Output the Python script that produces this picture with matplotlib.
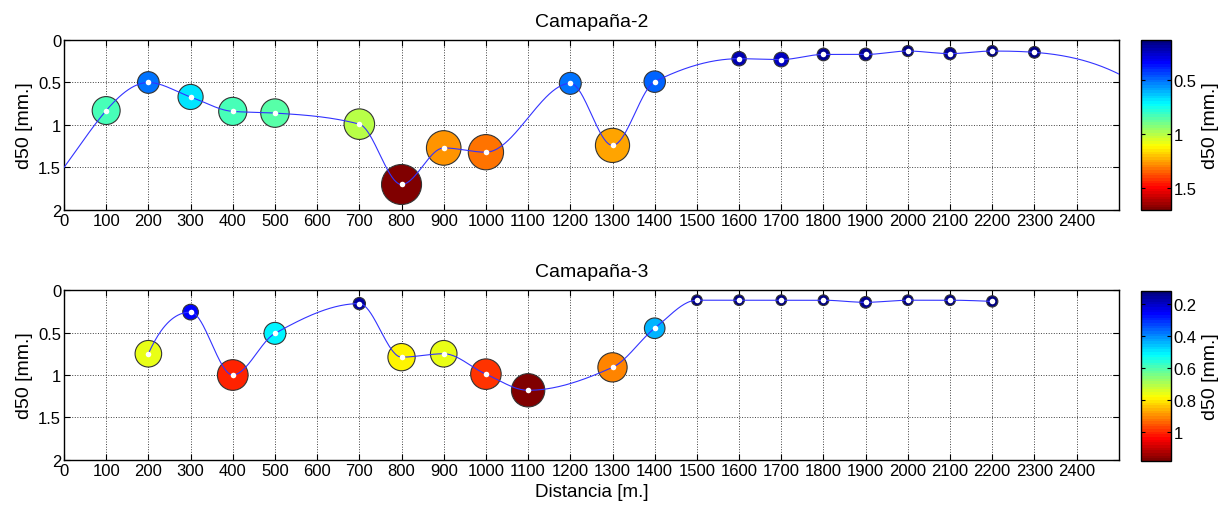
import numpy as np
import matplotlib
matplotlib.use('Agg')
import matplotlib.pyplot as plt
from matplotlib.colors import LinearSegmentedColormap

plt.rcParams['font.family'] = ['Liberation Sans', 'DejaVu Sans']
plt.rcParams['font.size'] = 12

# Campaign 2 (top)
dist2 = np.array([100, 200, 300, 400, 500, 700, 800, 900, 1000, 1200, 1300, 1400,
                  1600, 1700, 1800, 1900, 2000, 2100, 2200, 2300])
d50_2 = np.array([0.83, 0.50, 0.67, 0.84, 0.86, 0.99, 1.70, 1.27, 1.32, 0.51, 1.24, 0.49,
                  0.22, 0.23, 0.17, 0.17, 0.13, 0.16, 0.13, 0.145])

# Campaign 3 (bottom)
dist3 = np.array([200, 300, 400, 500, 700, 800, 900, 1000, 1100, 1300, 1400,
                  1500, 1600, 1700, 1800, 1900, 2000, 2100, 2200])
d50_3 = np.array([0.75, 0.26, 1.00, 0.51, 0.16, 0.79, 0.75, 0.99, 1.18, 0.91, 0.45,
                  0.12, 0.12, 0.12, 0.12, 0.145, 0.12, 0.12, 0.134])

titles = ['Camapaña-2', 'Camapaña-3']
cbar_ticks = [[0.5, 1, 1.5], [0.2, 0.4, 0.6, 0.8, 1]]
xticks = np.arange(0, 2500, 100)
yticks = [0, 0.5, 1, 1.5, 2]

# matlab style jet (64 levels)
mjet = LinearSegmentedColormap('mjet', {
    'red':   [(0, 0, 0), (0.375, 0, 0), (0.625, 1, 1), (0.875, 1, 1), (1, 0.5, 0.5)],
    'green': [(0, 0, 0), (0.125, 0, 0), (0.375, 1, 1), (0.625, 1, 1), (0.875, 0, 0), (1, 0, 0)],
    'blue':  [(0, 0.5, 0.5), (0.125, 1, 1), (0.375, 1, 1), (0.625, 0, 0), (1, 0, 0)],
}, N=64)


def pchip(x, y, xi):
    # shape preserving piecewise cubic (same as matlab interp1 'pchip')
    h = np.diff(x).astype(float)
    delta = np.diff(y) / h
    n = len(x)
    d = np.zeros(n)
    for k in range(1, n - 1):
        if delta[k - 1] * delta[k] > 0:
            w1 = 2 * h[k] + h[k - 1]
            w2 = h[k] + 2 * h[k - 1]
            d[k] = (w1 + w2) / (w1 / delta[k - 1] + w2 / delta[k])

    def end(h0, h1, del0, del1):
        de = ((2 * h0 + h1) * del0 - h0 * del1) / (h0 + h1)
        if np.sign(de) != np.sign(del0):
            de = 0.0
        elif np.sign(del0) != np.sign(del1) and abs(de) > abs(3 * del0):
            de = 3 * del0
        return de

    d[0] = end(h[0], h[1], delta[0], delta[1])
    d[-1] = end(h[-1], h[-2], delta[-1], delta[-2])
    idx = np.clip(np.searchsorted(x, xi) - 1, 0, n - 2)
    t = (xi - x[idx]) / h[idx]
    h00 = 2 * t**3 - 3 * t**2 + 1
    h10 = t**3 - 2 * t**2 + t
    h01 = -2 * t**3 + 3 * t**2
    h11 = t**3 - t**2
    return (y[idx] * h00 + h[idx] * d[idx] * h10 + y[idx + 1] * h01
            + h[idx] * d[idx + 1] * h11)


fig = plt.figure(figsize=(12.28, 5.10), dpi=100)
ax_pos = [[0.0521, 0.5863, 0.859, 0.3333], [0.0521, 0.0961, 0.859, 0.3333]]
cb_pos = [[0.929, 0.5863, 0.0244, 0.3333], [0.929, 0.0941, 0.0244, 0.3333]]

datasets = [(dist2, d50_2, True), (dist3, d50_3, False)]
for i, (xd, yd, extrap) in enumerate(datasets):
    ax = fig.add_axes(ax_pos[i])
    if extrap:
        xi = np.linspace(0, 2500, 1001)
    else:
        xi = np.linspace(xd.min(), xd.max(), 801)
    yi = pchip(xd, yd, xi)

    sc = ax.scatter(xd, yd, s=488 * yd, c=yd, cmap=mjet,
                    vmin=yd.min(), vmax=yd.max(),
                    edgecolors='#333333', linewidths=0.8, zorder=3)
    ax.plot(xi, yi, color='#3333ff', lw=0.8, zorder=4)
    ax.plot(xd, yd, 'o', color='white', ms=4, mec='none', zorder=5)

    ax.set_xlim(0, 2500)
    ax.set_ylim(2, 0)
    ax.set_xticks(xticks)
    ax.set_yticks(yticks)
    ax.set_yticklabels(['0', '0.5', '1', '1.5', '2'])
    ax.grid(True, ls=':', color='0.25', lw=0.7)
    ax.tick_params(direction='in', top=True, right=True, length=4, width=0.8,
                   labelsize=12, pad=2)
    for sp in ax.spines.values():
        sp.set_linewidth(1.0)
    ax.set_ylabel('d50 [mm.]', fontsize=14, labelpad=4)
    ax.set_title(titles[i], fontsize=14, pad=10)
    if i == 1:
        ax.set_xlabel('Distancia [m.]', fontsize=13.5, labelpad=4)

    cax = fig.add_axes(cb_pos[i])
    cb = fig.colorbar(sc, cax=cax)
    cax.invert_yaxis()
    cb.set_ticks(cbar_ticks[i])
    cb.set_ticklabels(['%g' % v for v in cbar_ticks[i]])
    cax.tick_params(direction='in', length=3, width=0.8, labelsize=12,
                    left=True, right=True, pad=2)
    cb.outline.set_linewidth(1.0)
    cb.set_label('d50 [mm.]', fontsize=14, labelpad=4)

plt.savefig('out.png', dpi=100)
